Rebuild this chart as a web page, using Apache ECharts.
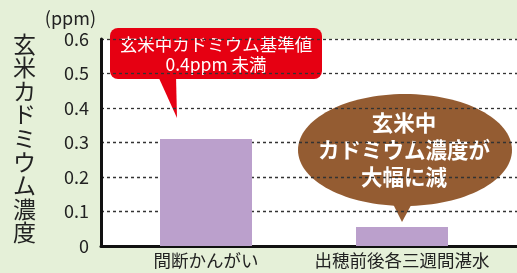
<!DOCTYPE html>
<html>
<head>
<meta charset="utf-8">
<script src="https://cdn.jsdelivr.net/npm/echarts@6/dist/echarts.min.js"></script>
<style>
  html, body { margin: 0; padding: 0; background: #e5f0d8; }
  #main { width: 517px; height: 273px; }
</style>
</head>
<body>
<div id="main"></div>
<script>
var categories = ['間断かんがい', '出穂前後各三週間湛水'];
var cadmium = [0.31, 0.055];
var yTicks = [0, 0.1, 0.2, 0.3, 0.4, 0.5, 0.6];

var font = '"Noto Sans CJK JP", "Noto Sans", sans-serif';
var chart = echarts.init(document.getElementById('main'));

var option = {
    backgroundColor: '#e5f0d8',
    textStyle: { fontFamily: font },
    grid: [
        // white plot area with axis lines and dashed grid
        { left: 101, right: 0, top: 39, bottom: 27, show: true, backgroundColor: '#fff', borderWidth: 0 },
        // bars
        { left: 108, right: 17, top: 39, bottom: 27 }
    ],
    xAxis: [
        {
            gridIndex: 0, type: 'category', data: categories,
            axisLine: { lineStyle: { color: '#111', width: 3 } },
            axisTick: { show: false }, axisLabel: { show: false }
        },
        {
            gridIndex: 1, type: 'category', data: categories,
            axisLine: { show: false }, axisTick: { show: false },
            axisLabel: { interval: 0, fontSize: 17.5, color: '#222', margin: 6, fontFamily: font }
        }
    ],
    yAxis: [
        {
            gridIndex: 0, type: 'value',
            min: yTicks[0], max: yTicks[yTicks.length - 1], interval: 0.1,
            name: '(ppm)', nameLocation: 'end', nameGap: 12,
            nameTextStyle: { fontSize: 18, color: '#222', align: 'right', padding: [0, 5, 0, 0], fontFamily: font },
            axisLine: { show: true, lineStyle: { color: '#111', width: 3 } },
            axisTick: { show: false },
            axisLabel: { fontSize: 18, color: '#222', margin: 12, fontFamily: font },
            splitLine: { lineStyle: { color: '#333', type: [3, 3], width: 1.3 } }
        },
        {
            gridIndex: 1, type: 'value',
            min: yTicks[0], max: yTicks[yTicks.length - 1], interval: 0.1, show: false
        }
    ],
    series: [{
        type: 'bar', xAxisIndex: 1, yAxisIndex: 1,
        data: cadmium, barWidth: 92,
        itemStyle: { color: '#bba0cc' },
        silent: true
    }],
    graphic: [
        {
            type: 'text', left: 13, top: 32,
            style: {
                text: '玄米カドミウム濃度'.split('').join('\n'),
                fontSize: 23, lineHeight: 23.6, fill: '#222', fontFamily: font, align: 'center'
            }
        },
        // red callout
        {
            type: 'group', z: 10,
            children: [
                { type: 'polygon', shape: { points: [[158, 76], [176, 76], [177, 118]] }, style: { fill: '#e60012' } },
                { type: 'rect', shape: { x: 110, y: 28, width: 212, height: 51, r: 8 }, style: { fill: '#e60012' } },
                {
                    type: 'text', x: 216, y: 54,
                    style: {
                        text: '玄米中カドミウム基準値\n0.4ppm 未満', fill: '#fff', fontSize: 17.5, lineHeight: 20,
                        align: 'center', verticalAlign: 'middle', fontFamily: font
                    }
                }
            ]
        },
        // brown callout
        {
            type: 'group', z: 10,
            children: [
                { type: 'polygon', shape: { points: [[389, 196], [416, 196], [402, 222]] }, style: { fill: '#945c32' } },
                { type: 'ellipse', shape: { cx: 405, cy: 150, rx: 107, ry: 56 }, style: { fill: '#945c32' } },
                {
                    type: 'text', x: 404, y: 150,
                    style: {
                        text: '玄米中\nカドミウム濃度が\n大幅に減', fill: '#fff', fontSize: 21.5, fontWeight: 'bold',
                        lineHeight: 27, align: 'center', verticalAlign: 'middle', fontFamily: font
                    }
                }
            ]
        }
    ]
};
chart.setOption(option);
</script>
</body>
</html>
